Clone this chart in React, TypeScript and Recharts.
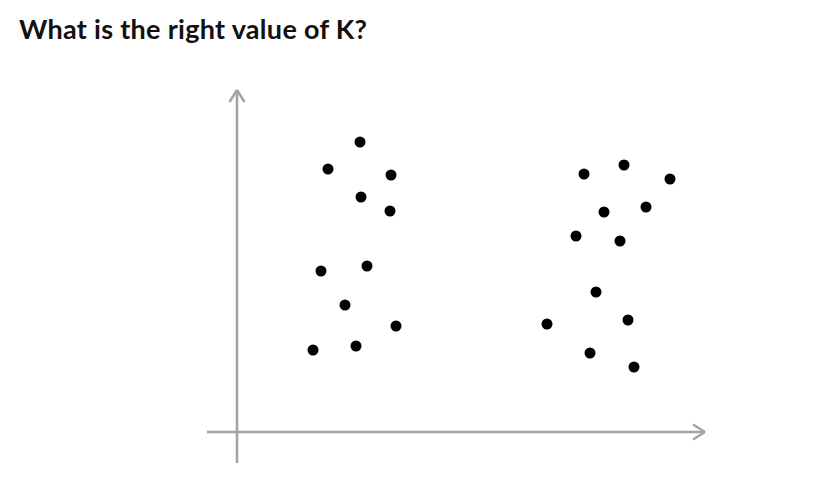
import { ReferenceLine, Scatter, ScatterChart, XAxis, YAxis } from "recharts";

// point positions (x to the right, y upwards, origin at the axis crossing)
const leftX = [12.3, 9.1, 15.4, 12.4, 15.3, 8.4, 13.0, 10.8, 15.9, 7.6, 11.9];
const leftY = [29.0, 26.3, 25.7, 23.5, 22.1, 16.1, 16.6, 12.7, 10.6, 8.2, 8.6];
const rightX = [34.7, 38.7, 43.3, 36.7, 40.9, 33.9, 38.3, 35.9, 31.0, 39.1, 35.3, 39.7];
const rightY = [25.8, 26.7, 25.3, 22.0, 22.5, 19.6, 19.1, 14.0, 10.8, 11.2, 7.9, 6.5];

const xDomain = [-3, 46.8];
const yDomain = [-3.1, 34.2];

const points = [...leftX, ...rightX].map((x, i) => ({
  x,
  y: i < leftX.length ? leftY[i] : rightY[i - leftX.length],
}));

const axisColor = "#a3a3a3";

export default function App() {
  return (
    <div
      style={{
        position: "absolute",
        left: 0,
        top: 0,
        width: 815,
        height: 497,
        background: "#fff",
      }}
    >
      <div
        style={{
          position: "absolute",
          left: 19,
          top: 12,
          fontFamily: "Lato, 'Open Sans', sans-serif",
          fontWeight: 700,
          fontSize: 27,
          letterSpacing: 0.3,
          color: "#111",
          whiteSpace: "nowrap",
        }}
      >
        What is the right value of K?
      </div>
      <ScatterChart
        width={815}
        height={497}
        margin={{ top: 90, left: 207, right: 110, bottom: 34 }}
      >
        <XAxis type="number" dataKey="x" domain={xDomain} hide allowDataOverflow />
        <YAxis type="number" dataKey="y" domain={yDomain} hide allowDataOverflow />
        <ReferenceLine
          segment={[{ x: xDomain[0], y: 0 }, { x: xDomain[1], y: 0 }]}
          stroke={axisColor}
          strokeWidth={2.5}
        />
        <ReferenceLine
          segment={[{ x: xDomain[1] - 1.2, y: 0.75 }, { x: xDomain[1], y: 0 }]}
          stroke={axisColor}
          strokeWidth={2.5}
        />
        <ReferenceLine
          segment={[{ x: xDomain[1] - 1.2, y: -0.75 }, { x: xDomain[1], y: 0 }]}
          stroke={axisColor}
          strokeWidth={2.5}
        />
        <ReferenceLine
          segment={[{ x: 0, y: yDomain[0] }, { x: 0, y: yDomain[1] }]}
          stroke={axisColor}
          strokeWidth={2.5}
        />
        <ReferenceLine
          segment={[{ x: -0.75, y: yDomain[1] - 1.2 }, { x: 0, y: yDomain[1] }]}
          stroke={axisColor}
          strokeWidth={2.5}
        />
        <ReferenceLine
          segment={[{ x: 0.75, y: yDomain[1] - 1.2 }, { x: 0, y: yDomain[1] }]}
          stroke={axisColor}
          strokeWidth={2.5}
        />
        <Scatter
          data={points}
          fill="#000"
          isAnimationActive={false}
          shape={(p: any) => <circle cx={p.cx} cy={p.cy} r={5.5} fill="#000" />}
        />
      </ScatterChart>
    </div>
  );
}
